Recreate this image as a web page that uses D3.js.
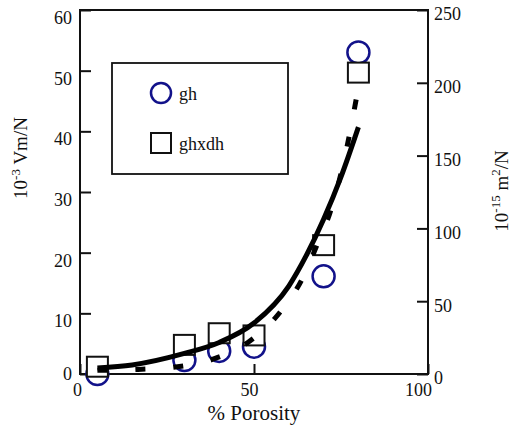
<!DOCTYPE html>
<html>
<head>
<meta charset="utf-8">
<script src="https://cdn.jsdelivr.net/npm/d3@7"></script>
<style>
  body { margin: 0; background: #fff; }
  svg text { font-family: "Liberation Serif", "Times New Roman", serif; fill: #111; }
  .axis path, .axis line { stroke: #111; stroke-width: 2; }
</style>
</head>
<body>
<script>
// measured points
const porosity = [5, 30, 40, 50, 70, 80];
const gh = [0, 2.3, 3.8, 4.5, 16.1, 53];          // left axis, 10^-3 Vm/N
const ghxdh = [5, 20, 28, 26.5, 88.5, 207];       // right axis, 10^-15 m^2/N

// fitted curves
const fitGhX = [5, 15, 30, 40, 50, 60, 65, 70, 75, 80];
const fitGhY = [1.0, 1.5, 3.4, 5.2, 8.4, 14.5, 19.5, 25.5, 32.5, 40.7];
const fitDhX = [5, 15, 28, 38, 49, 58, 64, 68, 72, 76, 80];
const fitDhY = [2.5, 3, 5, 10, 23, 44, 66, 88, 112, 148, 197];

const xTicks = [0, 50, 100];
const leftTicks = [0, 10, 20, 30, 40, 50, 60];
const rightTicks = [0, 50, 100, 150, 200, 250];
const legendItems = ["gh", "ghxdh"];

const FONT = '"Liberation Serif", "Times New Roman", serif';
const W = 512, H = 429;
const m = { top: 10, right: 84, bottom: 55, left: 80 };

const svg = d3.select("body").append("svg")
    .attr("width", W).attr("height", H);

const x = d3.scaleLinear().domain([0, 100]).range([m.left, W - m.right]);
const yL = d3.scaleLinear().domain([0, 60]).range([H - m.bottom, m.top]);
const yR = d3.scaleLinear().domain([0, 250]).range([H - m.bottom, m.top]);

// frame
svg.append("rect")
    .attr("x", x(0)).attr("y", yL(60))
    .attr("width", x(100) - x(0)).attr("height", yL(0) - yL(60))
    .attr("fill", "none").attr("stroke", "#111").attr("stroke-width", 2);

// axes, ticks point inward
const gx = svg.append("g").attr("class", "axis")
    .attr("transform", `translate(0,${yL(0)})`)
    .call(d3.axisBottom(x).tickValues(xTicks).tickSizeInner(-10).tickSizeOuter(0).tickPadding(8));
gx.selectAll("text").attr("dx", d => d === 0 ? "-3" : d === 50 ? "-5" : "-10").attr("dy", "0.8em");

const gl = svg.append("g").attr("class", "axis")
    .attr("transform", `translate(${x(0)},0)`)
    .call(d3.axisLeft(yL).tickValues(leftTicks).tickSizeInner(-11).tickSizeOuter(0).tickPadding(8));
gl.selectAll("text").attr("dy", d => d === 0 ? "0.32em" : "0.75em");

const gr = svg.append("g").attr("class", "axis")
    .attr("transform", `translate(${x(100)},0)`)
    .call(d3.axisRight(yR).tickValues(rightTicks).tickSizeInner(-11).tickSizeOuter(0).tickPadding(6));
gr.selectAll("text").attr("dy", "0.55em");

[gx, gl, gr].forEach(g => {
    g.attr("font-family", FONT).attr("font-size", 18);
    g.select(".domain").remove();
});

// axis titles
svg.append("text")
    .attr("x", x(50)).attr("y", 420)
    .attr("text-anchor", "middle").attr("font-size", 21)
    .text("% Porosity");

const tl = svg.append("text")
    .attr("transform", `translate(27,158) rotate(-90)`)
    .attr("text-anchor", "middle").attr("font-size", 19);
tl.append("tspan").text("10");
tl.append("tspan").attr("dy", -7).attr("font-size", 13).text("-3");
tl.append("tspan").attr("dy", 7).text(" Vm/N");

const tr = svg.append("text")
    .attr("transform", `translate(508,191) rotate(-90)`)
    .attr("text-anchor", "middle").attr("font-size", 19);
tr.append("tspan").text("10");
tr.append("tspan").attr("dy", -8).attr("font-size", 13).text("-15");
tr.append("tspan").attr("dy", 8).text(" m");
tr.append("tspan").attr("dy", -8).attr("font-size", 13).text("2");
tr.append("tspan").attr("dy", 8).text("/N");

// legend box
svg.append("rect")
    .attr("x", 112).attr("y", 63).attr("width", 176).attr("height", 111)
    .attr("fill", "#fff").attr("stroke", "#111").attr("stroke-width", 1.8);

const leg = svg.append("g");
legendItems.forEach((name, i) => {
    const cy = 93 + i * 50;
    if (i === 0) {
        leg.append("circle").attr("cx", 161).attr("cy", cy).attr("r", 10)
            .attr("fill", "none").attr("stroke", "#12128a").attr("stroke-width", 2.5);
    } else {
        leg.append("rect").attr("x", 151).attr("y", cy - 10).attr("width", 20).attr("height", 20)
            .attr("fill", "#fff").attr("stroke", "#111").attr("stroke-width", 2);
    }
    leg.append("text").attr("x", 179).attr("y", cy + 7).attr("font-size", 18).text(name);
});

// markers
svg.append("g").selectAll("circle")
    .data(porosity.map((p, i) => [p, gh[i]]))
    .join("circle")
    .attr("cx", d => x(d[0])).attr("cy", d => yL(d[1])).attr("r", 11)
    .attr("fill", "none").attr("stroke", "#12128a").attr("stroke-width", 2.5);

svg.append("g").selectAll("rect")
    .data(porosity.map((p, i) => [p, ghxdh[i]]))
    .join("rect")
    .attr("x", d => x(d[0]) - 10.5).attr("y", d => yR(d[1]) - 10)
    .attr("width", 21).attr("height", 20)
    .attr("fill", "#fff").attr("stroke", "#111").attr("stroke-width", 2);

// fitted curves
const lineL = d3.line().x(d => x(d[0])).y(d => yL(d[1])).curve(d3.curveMonotoneX);
const lineR = d3.line().x(d => x(d[0])).y(d => yR(d[1])).curve(d3.curveMonotoneX);

svg.append("path")
    .datum(fitGhX.map((v, i) => [v, fitGhY[i]]))
    .attr("d", lineL)
    .attr("fill", "none").attr("stroke", "#000").attr("stroke-width", 5);

svg.append("path")
    .datum(fitDhX.map((v, i) => [v, fitDhY[i]]))
    .attr("d", lineR)
    .attr("fill", "none").attr("stroke", "#000").attr("stroke-width", 5)
    .attr("stroke-dasharray", "10,28");
</script>
</body>
</html>
